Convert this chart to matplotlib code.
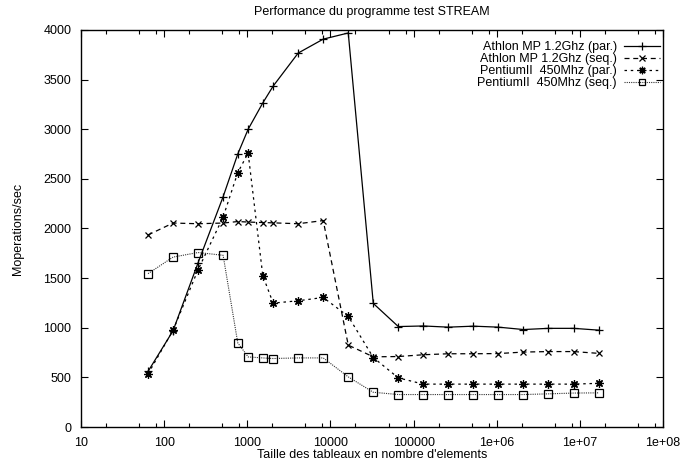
import matplotlib
matplotlib.use("Agg")
import matplotlib.pyplot as plt
from matplotlib.ticker import FixedLocator, FixedFormatter, NullFormatter

plt.rcParams['font.family'] = ['Liberation Sans', 'DejaVu Sans']

sizes = [64, 128, 256, 512, 768, 1024, 1536, 2048, 4096, 8192, 16384, 32768,
         65536, 131072, 262144, 524288, 1048576, 2097152, 4194304, 8388608, 16777216]

athlon_par = [560, 970, 1655, 2320, 2750, 3000, 3265, 3435, 3768, 3908, 3970, 1245,
              1012, 1018, 1006, 1016, 1006, 982, 994, 994, 976]
athlon_seq = [1935, 2055, 2048, 2055, 2070, 2065, 2060, 2057, 2048, 2080, 825, 707,
              710, 728, 738, 738, 740, 755, 760, 760, 742]
pentium_par = [535, 975, 1585, 2115, 2563, 2760, 1525, 1248, 1272, 1305, 1115, 700,
               495, 432, 432, 432, 432, 432, 432, 432, 440]
pentium_seq = [1545, 1712, 1758, 1730, 848, 706, 696, 690, 696, 696, 505, 350,
               327, 327, 327, 327, 327, 327, 334, 342, 344]

labels = ["Athlon MP 1.2Ghz (par.)", "Athlon MP 1.2Ghz (seq.)",
          "PentiumII  450Mhz (par.)", "PentiumII  450Mhz (seq.)"]

title = "Performance du programme test STREAM"
xlabel = "Taille des tableaux en nombre d'elements"
ylabel = "Moperations/sec"
xticks = [10, 100, 1000, 10000, 100000, 1e6, 1e7, 1e8]
xticklabels = ["10", "100", "1000", "10000", "100000", "1e+06", "1e+07", "1e+08"]
yticks = [0, 500, 1000, 1500, 2000, 2500, 3000, 3500, 4000]

fig = plt.figure(figsize=(6.84, 4.69), dpi=100)
ax = fig.add_axes([81/684, 1-427/469, (663-81)/684, (427-30)/469])

FS = 9
asterisk = (8, 2, 0)

ax.plot(sizes, athlon_par, color='black', lw=0.9, ls='-', marker='+', ms=6, mew=0.9,
        label=labels[0])
ax.plot(sizes, athlon_seq, color='black', lw=0.9, ls=(0, (4, 3)), marker='x', ms=5, mew=0.9,
        label=labels[1])
ax.plot(sizes, pentium_par, color='black', lw=0.9, ls=(0, (2, 3)), marker=asterisk, ms=6, mew=0.9,
        label=labels[2])
ax.plot(sizes, pentium_seq, color='#333333', lw=0.8, ls=(0, (1, 1)), marker='s', ms=5.5, mew=0.9,
        mfc='none', mec='black', label=labels[3])

ax.set_xscale('log')
ax.set_xlim(10, 1e8)
ax.set_ylim(0, 4000)

ax.xaxis.set_major_locator(FixedLocator(xticks))
ax.xaxis.set_major_formatter(FixedFormatter(xticklabels))
minor = []
for d in range(1, 8):
    for m in (2, 5, 8):
        minor.append(m * 10**d)
ax.xaxis.set_minor_locator(FixedLocator(minor))
ax.xaxis.set_minor_formatter(NullFormatter())
ax.set_yticks(yticks)
ax.set_yticklabels([str(v) for v in yticks])

ax.tick_params(which='both', direction='in', top=True, right=True, labelsize=FS, width=0.8)
ax.tick_params(which='major', length=5, pad=7)
ax.tick_params(which='minor', length=3)
for s in ax.spines.values():
    s.set_linewidth(1.0)

ax.set_title(title, fontsize=FS, pad=10.5)
ax.set_xlabel(xlabel, fontsize=FS, labelpad=0.5)
ax.set_ylabel(ylabel, fontsize=FS, labelpad=14)

leg = ax.legend(loc='upper right', bbox_to_anchor=(0.995, 0.972), frameon=False,
                markerfirst=False, fontsize=FS, handlelength=2.9, handletextpad=0.55,
                labelspacing=0.0, borderpad=0, borderaxespad=0, markerscale=0.9)

fig.savefig('out.png', dpi=100)
